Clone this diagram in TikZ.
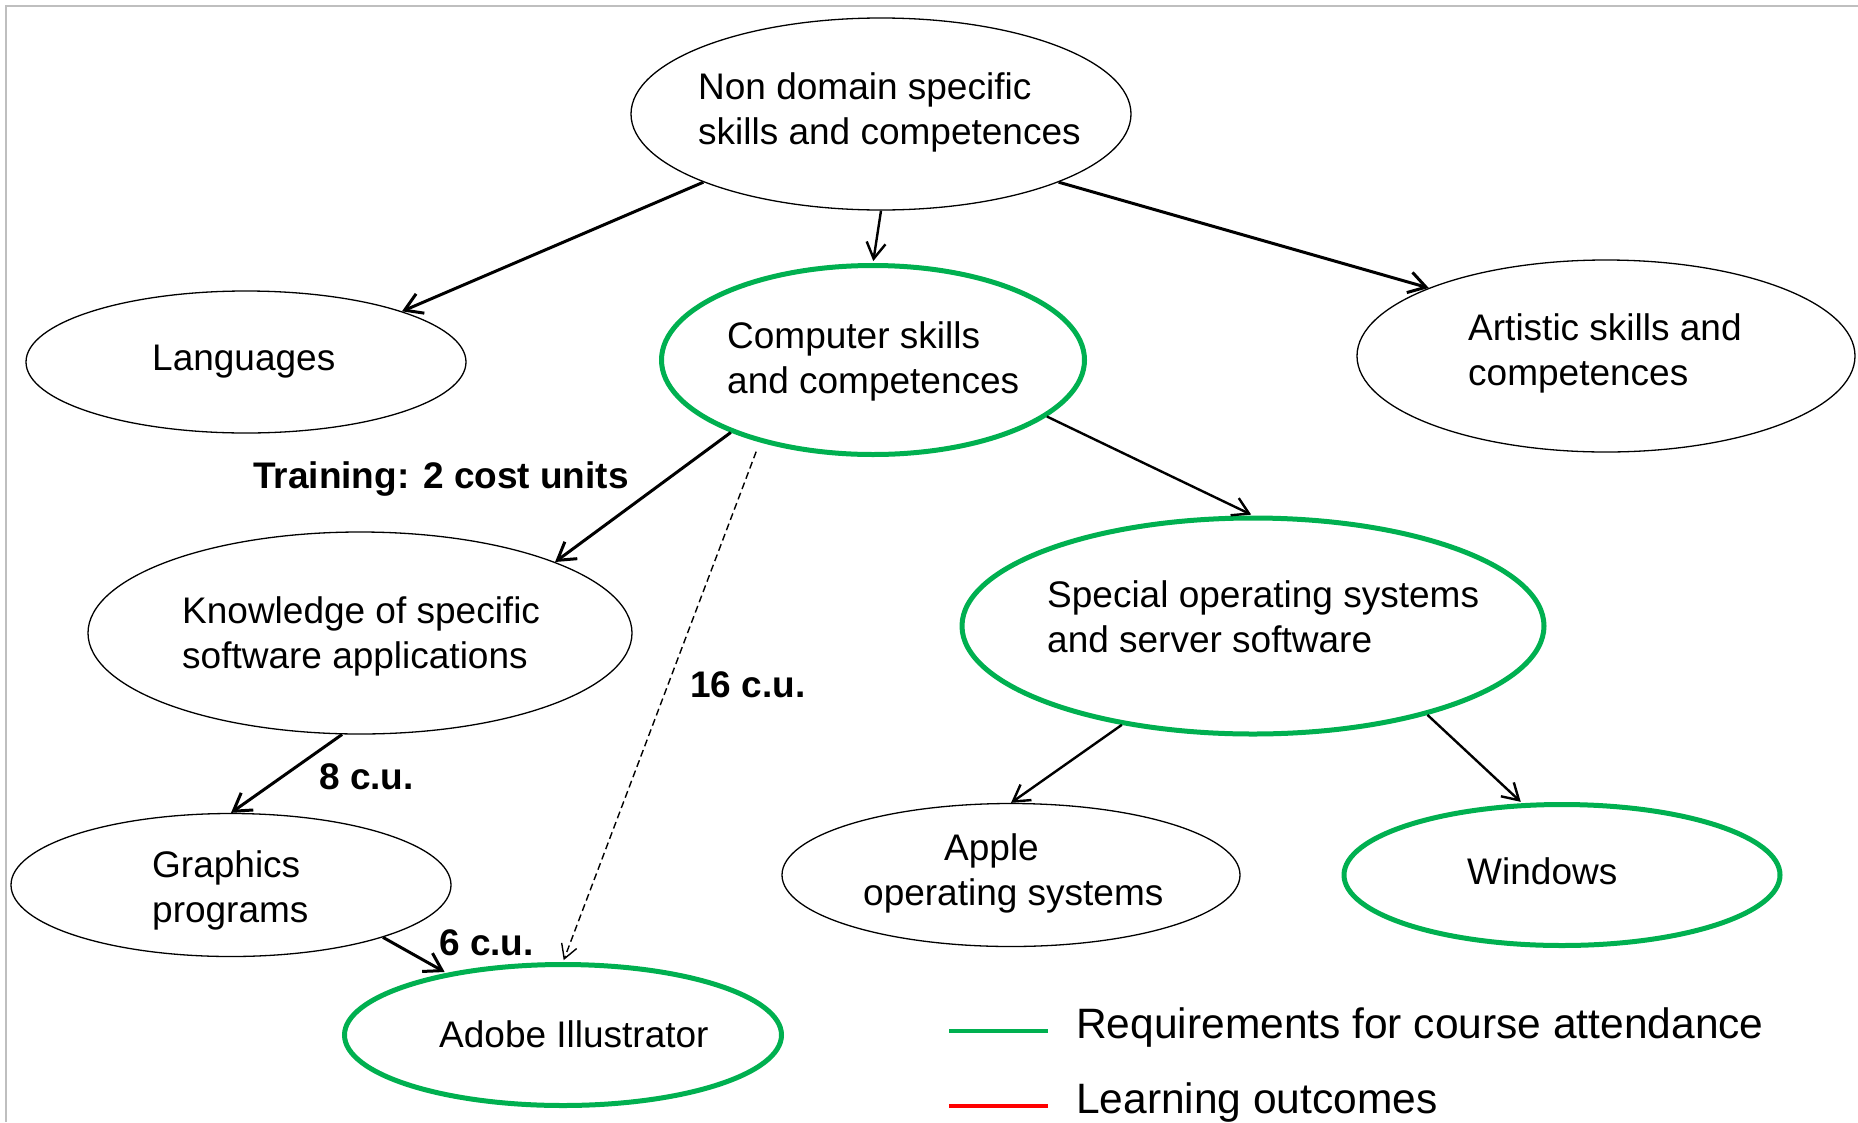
\documentclass[tikz,border=0pt]{standalone}
\usepackage{fontspec}
\setmainfont{Liberation Sans}
\usetikzlibrary{shapes.geometric,arrows.meta}
\definecolor{reqgreen}{HTML}{00B050}
\definecolor{outred}{HTML}{FF0000}
\definecolor{framegray}{HTML}{BFBFBF}
\newcommand{\twoline}[2]{\begin{tabular}[t]{@{}l@{}}#1\\#2\end{tabular}}
\begin{document}
\begin{tikzpicture}[x=1pt,y=-1pt,
  oval/.style={ellipse, draw=black, line width=1.3pt, inner sep=0pt},
  reqoval/.style={oval, draw=reqgreen, line width=5pt},
  lbl/.style={inner sep=0pt, anchor=base west, font=\fontsize{37}{45}\selectfont},
  cost/.style={lbl, font=\fontsize{37}{45}\selectfont\bfseries},
  leg/.style={inner sep=0pt, anchor=base west, font=\fontsize{42.5}{50}\selectfont},
  conn/.style={line width=3pt, -{Straight Barb[length=17pt,width=21pt]}},
  thinconn/.style={line width=2.4pt, -{Straight Barb[length=16pt,width=19pt]}},
  dashconn/.style={line width=1.4pt, dash pattern=on 7pt off 4pt, -{Straight Barb[length=14pt,width=16pt]}},
  togreen/.style={shorten >=2pt}
]
\fill[white] (0,0) rectangle (1858,1122);
\useasboundingbox (0,0) rectangle (1858,1122);
\draw[framegray, line width=2pt] (6,1122) -- (6,6) -- (1858,6);

% nodes
\node[oval, minimum width=500pt, minimum height=192pt] (nd) at (881,114) {};
\node[lbl] (ndt) at (698,99) {\twoline{Non domain specific}{skills and competences}};
\node[oval, minimum width=440pt, minimum height=142pt] (lang) at (246,362) {};
\node[lbl] (langt) at (152,370) {Languages};
\node[reqoval, minimum width=423pt, minimum height=189pt] (comp) at (873,360) {};
\node[lbl] (compt) at (727,348) {\twoline{Computer skills}{and competences}};
\node[oval, minimum width=498pt, minimum height=192pt] (art) at (1606,356) {};
\node[lbl] (artt) at (1468,340) {\twoline{Artistic skills and}{competences}};
\node[oval, minimum width=544pt, minimum height=202pt] (know) at (360,633) {};
\node[lbl] (knowt) at (182,623) {\twoline{Knowledge of specific}{software applications}};
\node[reqoval, minimum width=582pt, minimum height=216pt] (spec) at (1253,626) {};
\node[lbl] (spect) at (1047,607) {\twoline{Special operating systems}{and server software}};
\node[oval, minimum width=440pt, minimum height=143pt] (graph) at (231,885) {};
\node[lbl] (grapht) at (152,877) {\twoline{Graphics}{programs}};
\node[oval, minimum width=458pt, minimum height=143pt] (apple) at (1011,875) {};
\node[lbl] (applet) at (863,860) {\twoline{\hspace*{81pt}Apple}{operating systems}};
\node[reqoval, minimum width=436pt, minimum height=141pt] (win) at (1562,875) {};
\node[lbl] (wint) at (1467,884) {Windows};
\node[reqoval, minimum width=437pt, minimum height=141pt] (adobe) at (563,1035) {};
\node[lbl] (adobet) at (439,1047) {Adobe Illustrator};

% cost labels
\node[cost] (c2) at (253,488) {Training: 2 cost units};
\node[cost] (c8) at (319,789) {8 c.u.};
\node[cost] (c6) at (439,955) {6 c.u.};
\node[cost] (c16) at (690,697) {16 c.u.};

% connectors
\draw[conn] (nd.201) -- (lang.18);
\draw[thinconn, togreen] (nd.south) -- (comp.north);
\draw[conn] (nd.339) -- (art.159);
\draw[conn] (comp.207) -- (know.20);
\draw[thinconn, togreen] (comp.342) -- (spec.north);
\draw[dashconn, togreen, shorten <=10pt] (comp.216) -- (adobe.north);
\draw[conn] (know.260) -- (graph.north);
\draw[conn, togreen] (graph.341) -- (adobe.152);
\draw[thinconn] (spec.217) -- (apple.north);
\draw[thinconn, togreen] (spec.333) -- (win.119);

% legend
\coordinate (lg1) at (949,1031);
\coordinate (lg2) at (1048,1031);
\coordinate (lr1) at (949,1106);
\coordinate (lr2) at (1048,1106);
\draw[reqgreen, line width=4pt] (lg1) -- (lg2);
\draw[outred, line width=4pt] (lr1) -- (lr2);
\node[leg] (legreq) at (1076,1038) {Requirements for course attendance};
\node[leg] (legout) at (1076,1113) {Learning outcomes};
\end{tikzpicture}
\end{document}
